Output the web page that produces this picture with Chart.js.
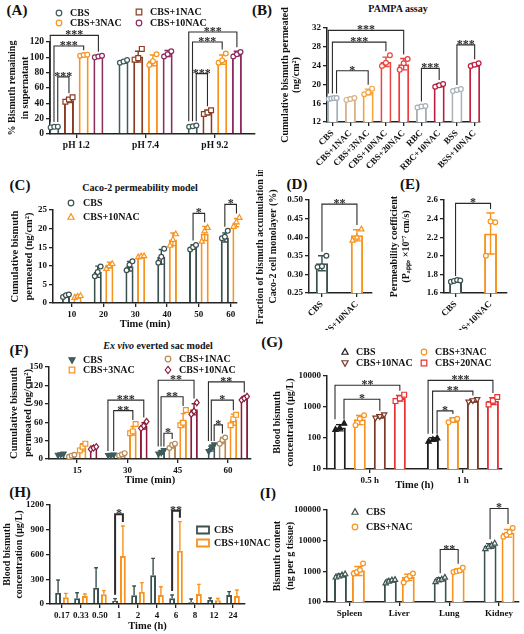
<!DOCTYPE html>
<html><head><meta charset="utf-8">
<script src="https://cdn.jsdelivr.net/npm/chart.js@4/dist/chart.umd.min.js"></script>
<style>
html,body{margin:0;padding:0;background:#fff;}
body{width:524px;height:634px;position:relative;overflow:hidden;font-family:'Liberation Serif','Times New Roman',serif;color:#111;}
canvas{position:absolute;}
.t{position:absolute;transform:translate(-50%,-50%);font-weight:bold;white-space:nowrap;}
.L{font-size:15px;}
.T{font-size:10px;}
</style></head><body>
<div class="t L" style="left:17px;top:10px">(A)</div>
<div class="t L" style="left:262px;top:10px">(B)</div>
<div class="t L" style="left:20px;top:185px">(C)</div>
<div class="t L" style="left:297px;top:184px">(D)</div>
<div class="t L" style="left:410px;top:184px">(E)</div>
<div class="t L" style="left:19px;top:350px">(F)</div>
<div class="t L" style="left:272px;top:342px">(G)</div>
<div class="t L" style="left:20px;top:492px">(H)</div>
<div class="t L" style="left:268px;top:493px">(I)</div>
<div class="t T" style="left:398px;top:8px">PAMPA assay</div>
<div class="t T" style="left:140px;top:187px">Caco-2 permeability model</div>
<div class="t T" style="left:158px;top:345px"><i>Ex vivo</i> everted sac model</div>
<script>
// ---------------- DATA ----------------
// (A) % bismuth remaining in supernatant
const aGroups = ['pH 1.2', 'pH 7.4', 'pH 9.2'];
const aYTicks = [0, 20, 40, 60, 80, 100, 120];
const aCBS = [9.5, 94, 10.4];      const aCBS_sd = [0.8, 1.5, 1];    const aCBS_pts = [[8.6, 9.3, 9.6], [93, 94.5, 96.5], [9.5, 10.2, 11]];
const a1NAC = [44, 101, 28];       const a1NAC_sd = [3, 7, 3];       const a1NAC_pts = [[42, 45, 48], [97, 99, 111], [26, 28, 31]];
const a3NAC = [103, 96, 97];       const a3NAC_sd = [1, 7, 6];       const a3NAC_pts = [[102, 103, 103.5], [90, 95, 104], [93, 96, 105]];
const a10NAC = [101, 105, 105];    const a10NAC_sd = [1, 4, 3];      const a10NAC_pts = [[100, 101, 102], [101, 104, 108], [101, 104, 107]];
const aBrackets = [[0,0,1,0,74.5,'***'],[0,0,2,0,114.7,'***'],[0,0,3,0,128.6,'***'],[0,2,1,2,78.8,'***'],[0,2,2,2,120,'***'],[0,2,3,2,133,'***']];

// (B) PAMPA assay
const bLabels = ['CBS','CBS+1NAC','CBS+3NAC','CBS+10NAC','CBS+20NAC','RBC','RBC+10NAC','BSS','BSS+10NAC'];
const bYTicks = [12, 16, 20, 24, 28, 32];
const bMean = [17.0, 16.9, 18.4, 24.8, 24.3, 15.3, 19.8, 18.8, 24.2];
const bSD = [0.2, 0.3, 0.6, 1.0, 1.2, 0.2, 0.3, 0.2, 0.3];
const bPts = [[16.9,17.0,17.1,17.1],[16.7,16.9,17.1],[17.9,18.3,19.1],[23.9,24.6,26.2],[23.1,24.5,25.4],[15.1,15.3,15.4],[19.5,19.8,20.1],[18.6,18.8,19.0],[23.9,24.2,24.5]];
const bBrackets = [[0,0,0,2,22.9,'*'],[0,0,0,3,29.0,'***'],[0,0,0,4,31.5,'***'],[0,5,0,6,23.4,'***'],[0,7,0,8,28.4,'***']];

// (C) Caco-2 permeability model
const cTimes = ['10','20','30','40','50','60'];
const cYTicks = [0, 5, 10, 15, 20, 25];
const cCBS = [1.9, 8.4, 9.9, 12.4, 15.1, 17.6]; const cCBS_sd = [0.4, 1.5, 1.3, 2.0, 0.6, 1.2];
const cCBS_pts = [[1.6,2.1,2.3],[7.2,8.3,9.8],[8.8,10.3,11.2],[10.8,12.4,14.6],[14.4,15.0,15.6],[17.4,17.8,19.4]];
const cNAC = [1.8, 10.2, 12.6, 17.1, 18.7, 21.6]; const cNAC_sd = [0.3, 0.8, 0.2, 1.7, 1.9, 1.1];
const cNAC_pts = [[1.5,1.8,2.0],[9.3,10.0,10.6],[12.4,12.6,12.7],[15.5,17.1,18.6],[16.6,19.4,20.3],[20.6,21.8,23.0]];
const cBrackets = [[0,4,1,4,24.1,'*'],[0,5,1,5,26.5,'*']];

// (D) fraction accumulated in Caco-2 monolayer
const dLabels = ['CBS', 'CBS+10NAC'];
const dYTicks = [0.25, 0.30, 0.35, 0.40, 0.45, 0.50];
const dMean = [0.33, 0.405]; const dSD = [0.02, 0.015];
const dPts = [[0.32, 0.322, 0.35], [0.392, 0.40, 0.422]];
const dBrackets = [[0,0,0,1,0.489,'**']];

// (E) permeability coefficient
const eLabels = ['CBS', 'CBS+10NAC'];
const eYTicks = [1.6, 1.8, 2.0, 2.2, 2.4, 2.6];
const eMean = [1.73, 2.24]; const eSD = [0.01, 0.22];
const ePts = [[1.72, 1.73, 1.74, 1.735], [2.0, 2.37, 2.36]];
const eBrackets = [[0,0,0,1,2.564,'*']];

// (F) ex vivo everted sac model
const fTimes = ['15','30','45','60'];
const fYTicks = [0, 30, 60, 90, 120, 150];
const fCBS = [7, 6, 10.8, 17.8];   const fCBS_sd = [1, 0.5, 3, 5];   const fCBS_pts = [[6,7,8],[5.5,6,6.5],[8,10,14],[12,18,23]];
const f1NAC = [5.4, 7.6, 22, 30];  const f1NAC_sd = [2, 2, 4, 5];    const f1NAC_pts = [[3.5,5.5,7],[5.5,7.5,9.5],[18,23,25],[25,31,35]];
const f3NAC = [19, 46, 63, 64];    const f3NAC_sd = [6, 7, 11, 9];   const f3NAC_pts = [[14,20,25],[42,45,57],[55,59,80],[55,65,72]];
const f10NAC = [19, 54, 81, 100];  const f10NAC_sd = [2, 5, 9, 2];   const f10NAC_pts = [[16,18,20],[50,54,61],[73,78,92],[96,99,102]];
const fBrackets = [[0,1,2,1,78.8,'**'],[0,1,3,1,96,'***'],[0,2,1,2,42,'*'],[0,2,2,2,101.5,'**'],[0,2,3,2,128.5,'**'],[0,3,1,3,55.6,'*'],[0,3,2,3,96,'*'],[0,3,3,3,125.8,'**']];

// (G) blood bismuth, log scale
const gTimes = ['0.5 h', '1 h'];
const gYTicks = [10, 100, 1000, 10000];
const gCBS = [220, 90];      const gCBS_sd = [50, 12];     const gCBS_pts = [[190,215,300],[78,90,100]];
const g3NAC = [400, 380];    const g3NAC_sd = [130, 60];   const g3NAC_pts = [[260,420,540],[320,380,420]];
const g10NAC = [500, 1600];  const g10NAC_sd = [60, 150];  const g10NAC_pts = [[440,490,560],[1450,1600,1750]];
const g20NAC = [1950, 1600]; const g20NAC_sd = [400, 400]; const g20NAC_pts = [[1550,1900,2500],[1200,1600,2100]];
const gBrackets = [[0,0,2,0,1780,'*'],[0,0,3,0,5020,'**'],[0,1,1,1,750,'*'],[0,1,2,1,3240,'**'],[0,1,3,1,7240,'***']];

// (H) blood bismuth time course
const hTimes = ['0.17','0.33','0.50','1','2','4','6','8','12','24'];
const hYTicks = [0, 300, 600, 900, 1200];
const hCBS = [137, 69, 198, 40, 105, 347, 69, 20, 48, 109];
const hCBS_sd = [154, 68, 242, 25, 113, 206, 40, 41, 25, 41];
const hNAC = [81, 97, 117, 582, 150, 109, 646, 121, 45, 97];
const hNAC_sd = [48, 24, 45, 363, 109, 101, 352, 117, 22, 73];
const hBrackets = [[0,3,1,3,1087,'*'],[0,6,1,6,1131,'**']];

// (I) tissue bismuth content, log scale
const iOrgans = ['Spleen', 'Liver', 'Lung', 'Kidney'];
const iYTicks = [100, 1000, 10000, 100000];
const iCBS = [740, 500, 550, 6800];   const iCBS_sd = [80, 50, 70, 1200];
const iCBS_pts = [[650,700,760,830],[420,480,520,540],[460,520,560,640],[5500,6300,7200,8300]];
const iNAC = [1080, 650, 1080, 18000]; const iNAC_sd = [350, 150, 120, 5000];
const iNAC_pts = [[850,950,1100,1800],[430,560,700,850],[950,1000,1060,1300],[13500,15500,19000,26000]];
const iBrackets = [[0,2,1,2,5140,'**'],[0,3,1,3,112000,'*']];

// ---------------- STYLE ----------------
const FONT = "'Liberation Serif', 'Times New Roman', serif";
const AX = '#222';
const SLATE = '#3f5b5d', DSLATE = '#3a5150', ORANGE = '#f7931e';
Chart.defaults.font.family = FONT;
Chart.defaults.color = '#111';

function drawMarker(ctx, m, x, y, r, color, fill) {
  ctx.save(); ctx.beginPath(); ctx.lineWidth = 1.2; ctx.strokeStyle = color; ctx.fillStyle = fill ? color : '#fff';
  if (m === 'circle') ctx.arc(x, y, r, 0, Math.PI * 2);
  else if (m === 'square') ctx.rect(x - r, y - r, 2 * r, 2 * r);
  else if (m === 'triangle') { ctx.moveTo(x, y - r * 1.2); ctx.lineTo(x + r * 1.1, y + r * 0.8); ctx.lineTo(x - r * 1.1, y + r * 0.8); ctx.closePath(); }
  else if (m === 'triangleDown') { ctx.moveTo(x, y + r * 1.2); ctx.lineTo(x + r * 1.1, y - r * 0.8); ctx.lineTo(x - r * 1.1, y - r * 0.8); ctx.closePath(); }
  else if (m === 'diamond') { ctx.moveTo(x, y - r * 1.3); ctx.lineTo(x + r, y); ctx.lineTo(x, y + r * 1.3); ctx.lineTo(x - r, y); ctx.closePath(); }
  else if (m === 'box') { ctx.lineWidth = 1.8; ctx.rect(x - 6, y - 3.5, 12, 7); }
  ctx.fill(); ctx.stroke(); ctx.restore();
}

function makeExtras(cfg) {
  const brackets = cfg.brackets || [], legend = cfg.legend || [];
  const org = [cfg.rect[0], cfg.rect[1]];
  const upOnly = !!cfg.upOnly, rad = cfg.r || 2.4, blw = cfg.blw || 1.1;
  // stagger left legs of brackets that start from the same bar (outermost leftmost)
  const groups = {}, legOff = {};
  brackets.forEach((b, k) => { const key = b[0] + '_' + b[1]; (groups[key] = groups[key] || []).push(k); });
  Object.values(groups).forEach(list => {
    list.sort((p, q) => brackets[q][4] - brackets[p][4]);
    const n = list.length;
    list.forEach((k, j) => { legOff[k] = n > 1 ? (-0.4 + 0.75 * j / (n - 1)) : 0; });
  });
  return {
    id: 'extras_' + Math.random().toString(36).slice(2),
    afterDatasetsDraw(chart) {
      const ctx = chart.ctx, ys = chart.scales.y;
      const pick = (a, i) => Array.isArray(a) ? a[i] : a;
      const raw = cfg._series;
      raw.forEach((s, di) => {
        const meta = chart.getDatasetMeta(di);
        meta.data.forEach((el, i) => {
          const color = pick(s.color, i);
          const v = s.values[i], sd = s.sd ? s.sd[i] : 0, w = el.width;
          if (sd) {
            const yt = ys.getPixelForValue(v + sd);
            const yb = upOnly ? el.y : ys.getPixelForValue(v - sd);
            const cap = w * 0.32;
            ctx.save(); ctx.strokeStyle = color; ctx.lineWidth = 1.4; ctx.beginPath();
            ctx.moveTo(el.x, yb); ctx.lineTo(el.x, yt);
            ctx.moveTo(el.x - cap, yt); ctx.lineTo(el.x + cap, yt);
            if (!upOnly) { ctx.moveTo(el.x - cap, yb); ctx.lineTo(el.x + cap, yb); }
            ctx.stroke(); ctx.restore();
          }
          const pts = s.pts ? s.pts[i] : null;
          if (pts) {
            const n = pts.length, span = w * 0.72;
            pts.forEach((p, k) => {
              const dx = n > 1 ? (k / (n - 1) - 0.5) * span : 0;
              drawMarker(ctx, pick(s.marker, i), el.x + dx, ys.getPixelForValue(p), rad, color, s.fill);
            });
          }
        });
      });
      const topOf = (di, i) => {
        const s = raw[di];
        let v = s.values[i] + (s.sd ? s.sd[i] : 0);
        if (s.pts) v = Math.max(v, ...s.pts[i]);
        return ys.getPixelForValue(v) - 4;
      };
      ctx.save();
      ctx.strokeStyle = '#2b2b2b'; ctx.fillStyle = '#2b2b2b'; ctx.lineWidth = blw;
      ctx.font = 'bold 12px ' + FONT; ctx.textAlign = 'center'; ctx.textBaseline = 'alphabetic';
      brackets.forEach((b, k) => {
        const e1 = chart.getDatasetMeta(b[0]).data[b[1]], e2 = chart.getDatasetMeta(b[2]).data[b[3]];
        const x1 = e1.x + legOff[k] * e1.width, x2 = e2.x;
        const yp = ys.getPixelForValue(b[4]);
        ctx.beginPath();
        ctx.moveTo(x1, topOf(b[0], b[1])); ctx.lineTo(x1, yp); ctx.lineTo(x2, yp); ctx.lineTo(x2, topOf(b[2], b[3]));
        ctx.stroke();
        ctx.fillText(b[5], (x1 + x2) / 2, yp + 3);
      });
      ctx.restore();
      ctx.save(); ctx.font = 'bold 10px ' + FONT; ctx.fillStyle = '#111'; ctx.textAlign = 'left'; ctx.textBaseline = 'middle';
      legend.forEach(it => {
        const x = it.x - org[0], y = it.y - org[1];
        drawMarker(ctx, it.m, x, y, 2.8, it.c, it.fill);
        ctx.fillText(it.t, x + (it.dx || 11), y + 0.5);
      });
      ctx.restore();
    }
  };
}

function panel(cfg) {
  const [cx, cy, cw, ch] = cfg.rect, [pl, pt, pr, pb] = cfg.plot;
  const cv = document.createElement('canvas');
  cv.width = cw; cv.height = ch; cv.style.left = cx + 'px'; cv.style.top = cy + 'px';
  cv.style.width = cw + 'px'; cv.style.height = ch + 'px';
  document.body.appendChild(cv);
  cfg._series = cfg.series;
  const datasets = cfg.series.map(s => ({
    label: s.name,
    data: s.values.map((v, i) => ({ x: i, y: v })),
    backgroundColor: '#ffffff', borderColor: s.color, borderWidth: cfg.bw || 2,
    categoryPercentage: cfg.cat, barPercentage: cfg.bar
  }));
  const tickFont = { family: FONT, weight: 'bold', size: cfg.tickSize || 9 };
  const gridOpt = () => ({ display: true, drawOnChartArea: false, drawTicks: true, tickLength: 4, color: AX, lineWidth: 1.3, offset: false });
  const xTitle = cfg.xTitle ? { display: true, text: cfg.xTitle, color: '#111', padding: 0,
                   font: { family: FONT, weight: 'bold', size: 10.5, lineHeight: 1.2 } } : { display: false };
  const yFmt = cfg.yFmt || (v => String(v));
  new Chart(cv, {
    type: 'bar',
    data: { datasets },
    options: {
      responsive: false, animation: false, devicePixelRatio: 1,
      layout: { padding: { top: pt - cy, right: cx + cw - pr, left: 0, bottom: 0 } },
      plugins: { legend: { display: false }, tooltip: { enabled: false } },
      scales: {
        x: {
          type: 'linear', min: cfg.xr[0], max: cfg.xr[1], offset: false,
          afterBuildTicks: s => { s.ticks = cfg.labels.map((_, i) => ({ value: i })); },
          afterFit: s => { s.height = cy + ch - pb; },
          ticks: { autoSkip: false, maxRotation: cfg.rot || 0, minRotation: cfg.rot || 0, font: tickFont, color: '#111', padding: 2,
                   callback: v => cfg.labels[v] },
          grid: gridOpt(), border: { display: true, color: AX, width: 1.5 },
          title: xTitle
        },
        y: {
          type: cfg.log ? 'logarithmic' : 'linear', min: cfg.yr[0], max: cfg.yr[1],
          afterBuildTicks: s => { s.ticks = cfg.yTicks.map(v => ({ value: v })); },
          afterFit: s => { s.width = pl - cx; },
          ticks: { font: tickFont, color: '#111', padding: 2, callback: v => yFmt(v) },
          grid: gridOpt(), border: { display: true, color: AX, width: 1.5 },
          title: { display: true, text: cfg.yTitle, color: '#111', padding: 0,
                   font: { family: FONT, weight: 'bold', size: cfg.ytSize || 10, lineHeight: cfg.ytLH || 1.25 } }
        }
      }
    },
    plugins: [makeExtras(cfg)]
  });
}

function safe(fn) { try { fn(); } catch (e) { console.error(e && e.stack ? e.stack : e); } }

// ---------------- PANELS ----------------
const A_C = [SLATE, '#8a3b23', ORANGE, '#8e2b5f'];
safe(() => panel({ rect: [6, 0, 256, 160], plot: [50, 42, 255, 134], labels: aGroups, xr: [-0.38, 2.58], yr: [0, 120], yTicks: aYTicks,
  yTitle: ['% Bismuth remaining', 'in supernatant'], ytLH: 1.3, cat: 0.85, bar: 0.68, tickSize: 9.5,
  series: [
    { name: 'CBS', values: aCBS, sd: aCBS_sd, pts: aCBS_pts, color: A_C[0], marker: 'circle' },
    { name: 'CBS+1NAC', values: a1NAC, sd: a1NAC_sd, pts: a1NAC_pts, color: A_C[1], marker: 'square' },
    { name: 'CBS+3NAC', values: a3NAC, sd: a3NAC_sd, pts: a3NAC_pts, color: A_C[2], marker: 'circle' },
    { name: 'CBS+10NAC', values: a10NAC, sd: a10NAC_sd, pts: a10NAC_pts, color: A_C[3], marker: 'circle' }],
  brackets: aBrackets,
  legend: [{ m: 'circle', c: A_C[0], x: 59, y: 13, t: 'CBS' }, { m: 'square', c: A_C[1], x: 139, y: 12, t: 'CBS+1NAC' },
           { m: 'circle', c: A_C[2], x: 59, y: 23, t: 'CBS+3NAC' }, { m: 'circle', c: A_C[3], x: 139, y: 23, t: 'CBS+10NAC' }] }));

const B_C = ['#a3afb6', '#d7b48a', '#f6a33c', '#e8483f', '#ef3b3b', '#a9afb7', '#b81d3e', '#a9b4b8', '#c21f3d'];
safe(() => panel({ rect: [280, 0, 244, 185], plot: [327, 28, 480, 122], labels: bLabels, xr: [-0.32, 8.3], yr: [12, 32], yTicks: bYTicks,
  yTitle: ['Cumulative bismuth permeated', '(ng/cm²)'], ytLH: 1.1, cat: 1, bar: 0.62, rot: 45,
  series: [{ name: 'PAMPA', values: bMean, sd: bSD, pts: bPts, color: B_C, marker: 'circle' }],
  brackets: bBrackets }));

safe(() => panel({ rect: [8, 180, 254, 151], plot: [53, 210, 237, 303], labels: cTimes, xr: [-0.59, 5.2], yr: [0, 25], yTicks: cYTicks,
  yTitle: ['Cumulative bismuth', 'permeated (ng/cm²)'], ytSize: 10.5, ytLH: 1.33, xTitle: 'Time (min)', cat: 0.73, bar: 0.7,
  series: [
    { name: 'CBS', values: cCBS, sd: cCBS_sd, pts: cCBS_pts, color: DSLATE, marker: 'circle' },
    { name: 'CBS+10NAC', values: cNAC, sd: cNAC_sd, pts: cNAC_pts, color: ORANGE, marker: 'triangle' }],
  brackets: cBrackets,
  legend: [{ m: 'circle', c: DSLATE, x: 71, y: 203, t: 'CBS', dx: 12 }, { m: 'triangle', c: ORANGE, x: 71, y: 217, t: 'CBS+10NAC', dx: 12 }] }));

safe(() => panel({ rect: [254, 170, 136, 160], plot: [309, 200, 372, 293], labels: dLabels, xr: [-0.37, 1.43], yr: [0.25, 0.50], yTicks: dYTicks,
  yFmt: v => v.toFixed(2), yTitle: ['Fraction of bismuth accumulation in', 'Caco-2 cell monolayer (%)'], ytLH: 1.3, cat: 1, bar: 0.35, rot: 45,
  series: [{ name: 'D', values: dMean, sd: dSD, pts: dPts, color: [DSLATE, ORANGE], marker: ['circle', 'triangle'] }],
  brackets: dBrackets }));

safe(() => panel({ rect: [389, 170, 135, 160], plot: [444, 200, 507, 293], labels: eLabels, xr: [-0.33, 1.47], yr: [1.6, 2.6], yTicks: eYTicks,
  yFmt: v => v.toFixed(1), yTitle: ['Permeability coefficient', '(Pₐₚₚ, ×10⁻⁷ cm/s)'], ytLH: 1.15, cat: 1, bar: 0.37, rot: 45,
  series: [{ name: 'E', values: eMean, sd: eSD, pts: ePts, color: [DSLATE, ORANGE], marker: 'circle' }],
  brackets: eBrackets }));

const F_C = [SLATE, '#b88a55', ORANGE, '#8b1c3b'];
safe(() => panel({ rect: [7, 338, 255, 149], plot: [49, 367, 251, 459], labels: fTimes, xr: [-0.56, 3.46], yr: [0, 150], yTicks: fYTicks,
  yTitle: ['Cumulative bismuth', 'permeated (ng/cm²)'], ytSize: 10.5, ytLH: 1.33, xTitle: 'Time (min)', cat: 0.87, bar: 0.7,
  series: [
    { name: 'CBS', values: fCBS, sd: fCBS_sd, pts: fCBS_pts, color: F_C[0], marker: 'triangleDown', fill: true },
    { name: 'CBS+1NAC', values: f1NAC, sd: f1NAC_sd, pts: f1NAC_pts, color: F_C[1], marker: 'circle' },
    { name: 'CBS+3NAC', values: f3NAC, sd: f3NAC_sd, pts: f3NAC_pts, color: F_C[2], marker: 'square' },
    { name: 'CBS+10NAC', values: f10NAC, sd: f10NAC_sd, pts: f10NAC_pts, color: F_C[3], marker: 'diamond' }],
  brackets: fBrackets,
  legend: [{ m: 'triangleDown', c: F_C[0], x: 72, y: 360, t: 'CBS', fill: true }, { m: 'square', c: F_C[2], x: 72, y: 370, t: 'CBS+3NAC' },
           { m: 'circle', c: F_C[1], x: 168, y: 359, t: 'CBS+1NAC' }, { m: 'diamond', c: F_C[3], x: 168, y: 370, t: 'CBS+10NAC' }] }));

const G_C = ['#1d1d1d', ORANGE, '#7b3a28', '#ea3131'];
safe(() => panel({ rect: [271, 340, 253, 152], plot: [327, 376, 502, 469], labels: gTimes, xr: [-0.46, 1.42], yr: [10, 10000], yTicks: gYTicks, log: true,
  yTitle: ['Blood bismuth', 'concentration (μg/L)'], ytLH: 1.3, xTitle: 'Time (h)', cat: 0.86, bar: 0.6,
  series: [
    { name: 'CBS', values: gCBS, sd: gCBS_sd, pts: gCBS_pts, color: G_C[0], marker: 'triangle', fill: true },
    { name: 'CBS+3NAC', values: g3NAC, sd: g3NAC_sd, pts: g3NAC_pts, color: G_C[1], marker: 'circle' },
    { name: 'CBS+10NAC', values: g10NAC, sd: g10NAC_sd, pts: g10NAC_pts, color: G_C[2], marker: 'triangleDown' },
    { name: 'CBS+20NAC', values: g20NAC, sd: g20NAC_sd, pts: g20NAC_pts, color: G_C[3], marker: 'square' }],
  brackets: gBrackets,
  legend: [{ m: 'triangle', c: G_C[0], x: 345, y: 352, t: 'CBS' }, { m: 'triangleDown', c: G_C[2], x: 345, y: 363, t: 'CBS+10NAC' },
           { m: 'circle', c: G_C[1], x: 424, y: 352, t: 'CBS+3NAC' }, { m: 'square', c: G_C[3], x: 424, y: 363, t: 'CBS+20NAC' }] }));

safe(() => panel({ rect: [1, 490, 271, 143], plot: [50, 505, 245, 604], labels: hTimes, xr: [-0.63, 9.63], yr: [0, 1200], yTicks: hYTicks,
  yTitle: ['Blood bismuth', 'concentration (μg/L)'], ytLH: 1.2, xTitle: 'Time (h)', cat: 0.82, bar: 0.75, upOnly: true, blw: 2,
  series: [
    { name: 'CBS', values: hCBS, sd: hCBS_sd, color: DSLATE },
    { name: 'CBS+10NAC', values: hNAC, sd: hNAC_sd, color: ORANGE }],
  brackets: hBrackets,
  legend: [{ m: 'box', c: DSLATE, x: 203, y: 530, t: 'CBS' }, { m: 'box', c: ORANGE, x: 203, y: 543, t: 'CBS+10NAC' }] }));

safe(() => panel({ rect: [271, 490, 253, 144], plot: [327, 510, 519, 602], labels: iOrgans, xr: [-0.45, 3.4], yr: [100, 100000], yTicks: iYTicks, log: true,
  yTitle: ['Bismuth content', '(ng per g tissue)'], ytLH: 1.3, cat: 0.72, bar: 0.72,
  series: [
    { name: 'CBS', values: iCBS, sd: iCBS_sd, pts: iCBS_pts, color: DSLATE, marker: 'triangle' },
    { name: 'CBS+NAC', values: iNAC, sd: iNAC_sd, pts: iNAC_pts, color: ORANGE, marker: 'circle' }],
  brackets: iBrackets,
  legend: [{ m: 'triangle', c: DSLATE, x: 355, y: 512, t: 'CBS' }, { m: 'circle', c: ORANGE, x: 355, y: 527, t: 'CBS+NAC' }] }));
</script>
</body></html>
